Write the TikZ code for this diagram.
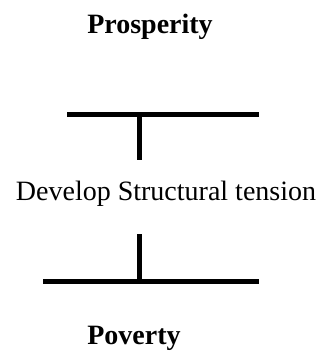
\documentclass[tikz,border=0pt]{standalone}
\usepackage{fontspec}
\setmainfont{Liberation Serif}
\begin{document}
\begin{tikzpicture}[x=1bp,y=-1bp,
  lbl/.style={anchor=base,inner sep=0pt,font=\fontsize{28bp}{34bp}\selectfont},
  bar/.style={line width=5bp}]
\useasboundingbox (0,0) rectangle (322,354);
\node[lbl,font=\fontsize{28bp}{34bp}\selectfont\bfseries] (top) at (150,33) {Prosperity};
\node[lbl] (mid) at (166,200) {Develop Structural tension};
\node[lbl,font=\fontsize{28bp}{34bp}\selectfont\bfseries] (bot) at (134,344) {Poverty};
\coordinate (tl) at (67,114);
\coordinate (tr) at (259,114);
\coordinate (tj) at (139,114);
\coordinate (ts) at (139,160);
\coordinate (bs) at (139,234);
\coordinate (bj) at (139,281);
\coordinate (bl) at (43,281);
\coordinate (br) at (259,281);
\draw[bar] (tl) -- (tr);
\draw[bar] (tj) -- (ts);
\draw[bar] (bs) -- (bj);
\draw[bar] (bl) -- (br);
\end{tikzpicture}
\end{document}
